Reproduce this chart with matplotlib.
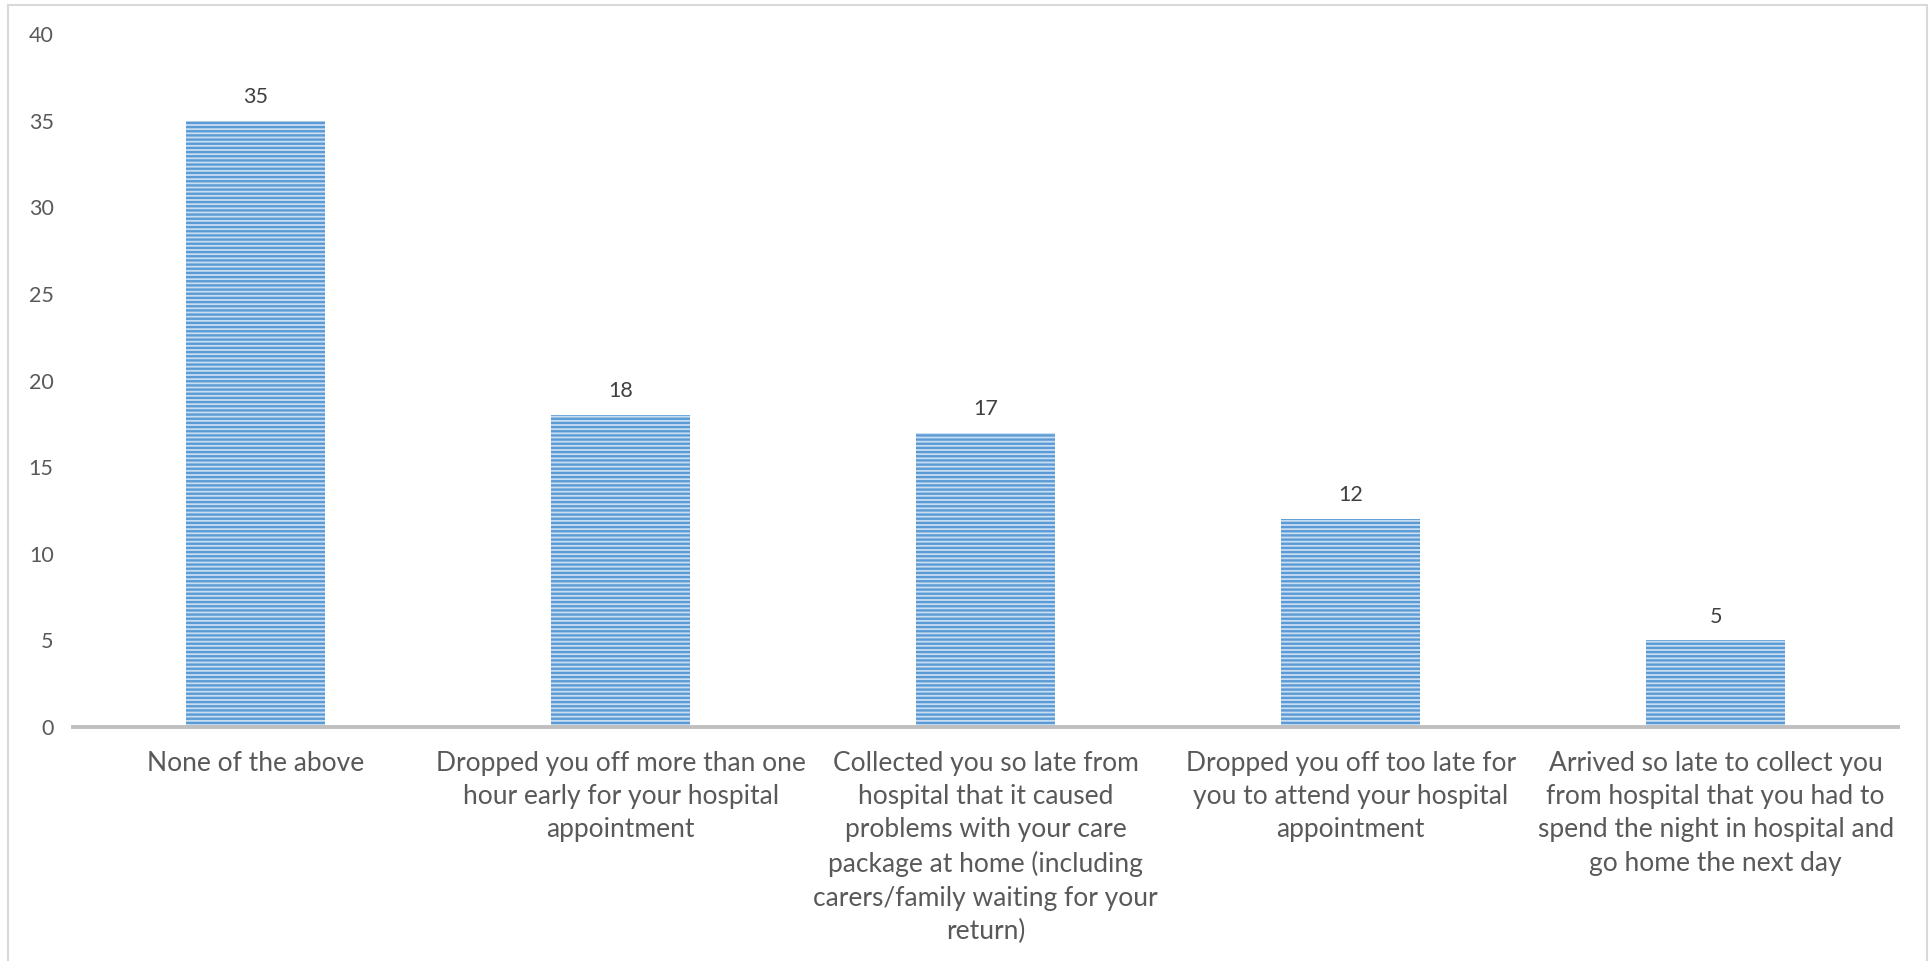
import matplotlib
matplotlib.use('Agg')
import matplotlib.pyplot as plt
from matplotlib.patches import Rectangle

categories = [
    'None of the above',
    'Dropped you off more than one\nhour early for your hospital\nappointment',
    'Collected you so late from\nhospital that it caused\nproblems with your care\npackage at home (including\ncarers/family waiting for your\nreturn)',
    'Dropped you off too late for\nyou to attend your hospital\nappointment',
    'Arrived so late to collect you\nfrom hospital that you had to\nspend the night in hospital and\ngo home the next day',
]
counts = [35, 18, 17, 12, 5]
yticks = [0, 5, 10, 15, 20, 25, 30, 35, 40]

plt.rcParams['font.family'] = ['Lato', 'DejaVu Sans']
plt.rcParams['hatch.linewidth'] = 1.7

text_col = '#595959'

fig = plt.figure(figsize=(19.33, 9.61), dpi=100)
ax = fig.add_axes([0.0378, 0.2435, 0.982 - 0.0378, 0.9644 - 0.2435])

x = list(range(len(categories)))
bars = ax.bar(x, counts, width=0.38, color='#C9DDF2', edgecolor='#5B9BD5',
              linewidth=0, hatch='----')

for b, v in zip(bars, counts):
    ax.annotate(str(v), (b.get_x() + b.get_width() / 2, v), xytext=(0, 10),
                textcoords='offset points', ha='center', va='bottom',
                fontsize=15.5, color='#404040')

ax.set_xlim(-0.5, 4.5)
ax.set_ylim(0, 40)
ax.set_yticks(yticks)
ax.set_yticklabels([str(t) for t in yticks], fontsize=15.5, color=text_col)
ax.set_xticks(x)
ax.set_xticklabels(categories, fontsize=19, color=text_col, linespacing=1.42)
ax.tick_params(axis='both', length=0)
ax.tick_params(axis='y', pad=14)
ax.tick_params(axis='x', pad=17)

for s in ['left', 'right', 'top']:
    ax.spines[s].set_visible(False)
ax.spines['bottom'].set_color('#BFBFBF')
ax.spines['bottom'].set_linewidth(2.8)

# thin frame around the chart area
fig.patches.append(Rectangle((8 / 1933, -0.05), 1919 / 1933, 1 - 5 / 961 + 0.05,
                             transform=fig.transFigure, fill=False,
                             edgecolor='#D9D9D9', linewidth=1.5))

fig.savefig('out.png', dpi=100)
